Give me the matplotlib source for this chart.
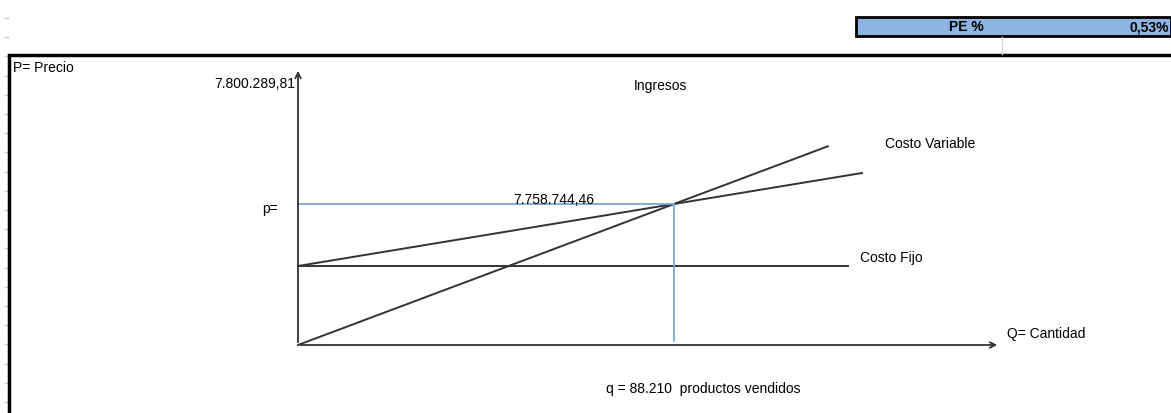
import matplotlib
matplotlib.use("Agg")
import matplotlib.pyplot as plt
from matplotlib.patches import Rectangle

plt.rcParams['font.family'] = ['Liberation Sans', 'DejaVu Sans']

### values
q_break = 88210            # productos vendidos
p_break = 7758744.46       # ingresos = costo total
p_top_label = "7.800.289,81"
costo_fijo = 4347000
q_ingresos_end = 124300
q_costo_total_end = 132300
q_fijo_end = 129000
q_axis_end = 164700
p_axis_end = 15240000
pe_pct = "0,53%"

### scale: units per pixel (sheet drawing)
q_per_px = q_break / (674 - 298)
p_per_px = p_break / (345 - 204)

fig = plt.figure(figsize=(11.71, 4.13), dpi=100)
ax = fig.add_axes([0, 0, 1, 1])
ax.set_xlim(-298 * q_per_px, (1171 - 298) * q_per_px)
ax.set_ylim(-(413 - 345) * p_per_px, 345 * p_per_px)
ax.axis("off")

dark = "#333333"
blue = "#7ea6d8"

### axes with arrows
ax.annotate("", xy=(0, p_axis_end), xytext=(0, 0),
            arrowprops=dict(arrowstyle="->", color=dark, lw=1.3))
ax.annotate("", xy=(q_axis_end, 0), xytext=(0, 0),
            arrowprops=dict(arrowstyle="->", color=dark, lw=1.3))

### lines
slope_ing = p_break / q_break
ax.plot([0, q_ingresos_end], [0, slope_ing * q_ingresos_end], color=dark, lw=1.4)
slope_ct = (p_break - costo_fijo) / q_break
ax.plot([0, q_costo_total_end], [costo_fijo, costo_fijo + slope_ct * q_costo_total_end],
        color=dark, lw=1.4)
ax.plot([0, q_fijo_end], [costo_fijo, costo_fijo], color=dark, lw=1.4)

### break-even guides
ax.plot([0, q_break], [p_break, p_break], color=blue, lw=1.3)
ax.plot([q_break, q_break], [p_break, 4 * p_per_px], color=blue, lw=1.3)

### overlay in sheet pixels
ov = fig.add_axes([0, 0, 1, 1], facecolor="none")
ov.set_xlim(0, 1171)
ov.set_ylim(413, 0)
ov.axis("off")

# row stubs on the left
y = 18
while y < 413:
    ov.plot([5, 8], [y, y], color="#c8c8c8", lw=1)
    y += 19.2

# frame of the drawing
ov.plot([9, 9, 1171], [413, 55, 55], color="black", lw=2.5, solid_joinstyle="miter")

# PE box
ov.plot([1002, 1002], [37, 54], color="#d9d9d9", lw=1)
ov.add_patch(Rectangle((856, 17), 315, 19, facecolor="#8db4e2",
                       edgecolor="black", lw=2))
ov.text(966, 27, "PE %", ha="center", va="center", fontsize=10, fontweight="bold")
ov.text(1169, 27, pe_pct, ha="right", va="center", fontsize=10, fontweight="bold")

fs = 10
ov.text(13, 68, "P= Precio", ha="left", va="center", fontsize=fs)
ov.text(295, 84, p_top_label, ha="right", va="center", fontsize=fs)
ov.text(660, 86, "Ingresos", ha="center", va="center", fontsize=fs)
ov.text(885, 144, "Costo Variable", ha="left", va="center", fontsize=fs)
ov.text(262, 209, "p=", ha="left", va="center", fontsize=fs)
ov.text(554, 200, "7.758.744,46", ha="center", va="center", fontsize=fs)
ov.text(860, 258, "Costo Fijo", ha="left", va="center", fontsize=fs)
ov.text(1007, 334, "Q= Cantidad", ha="left", va="center", fontsize=fs)
ov.text(703, 389, "q = 88.210  productos vendidos", ha="center", va="center", fontsize=fs)

fig.savefig("out.png", dpi=100)
